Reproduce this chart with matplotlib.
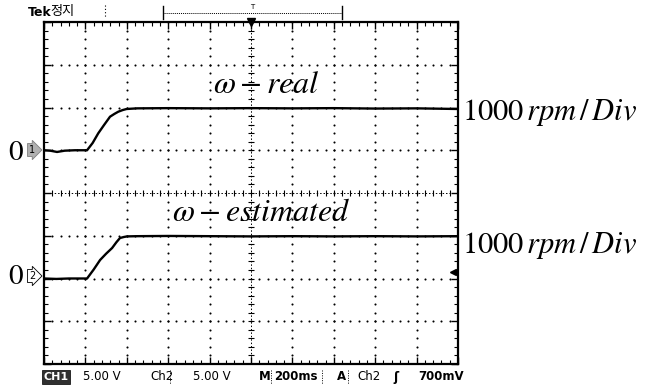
import matplotlib
matplotlib.use("Agg")
import matplotlib.pyplot as plt
import numpy as np
from matplotlib.lines import Line2D

plt.rcParams["mathtext.fontset"] = "stix"

# time base 200 ms/div, 1000 rpm/div
t_real = [0, 30, 63, 100, 150, 208, 235, 262, 290, 319, 340, 359, 380, 399, 450, 600, 800,
          1000, 1200, 1400, 1600, 1800, 2000]
w_real = [0, -10, -40, -10, 0, 0, 170, 396, 590, 785, 850, 902, 940, 965, 980, 985, 980,
          985, 980, 985, 975, 980, 965]
t_est = [0, 60, 120, 160, 208, 240, 271, 300, 329, 350, 367, 385, 401, 450, 600, 800,
         1000, 1200, 1400, 1600, 1800, 2000]
w_est = [0, -10, 0, 0, 0, 210, 433, 580, 713, 850, 947, 970, 985, 990, 995, 990,
         985, 990, 985, 990, 985, 990]

offset_real = 5   # divisions
offset_est = 2
rpm_per_div = 1000

fig = plt.figure(figsize=(6.49, 3.88), dpi=100)
ax = fig.add_axes([44 / 649, 1 - 364 / 388, 414 / 649, 342 / 388])
ax.set_xlim(0, 2000)
ax.set_ylim(0, 8)

# graticule dots
xdots = np.arange(0, 2001, 40)
ydots = np.arange(0, 8.01, 0.2)
for gy in [1, 2, 3, 5, 6, 7]:
    ax.plot(xdots, np.full(len(xdots), gy), ls="none", marker="o", ms=1.5, color="black", mew=0)
for gx in [200, 400, 600, 800, 1200, 1400, 1600, 1800]:
    ax.plot(np.full(len(ydots), gx), ydots, ls="none", marker="o", ms=1.5, color="black", mew=0)
# centre lines with ticks
ax.axhline(4, color="black", lw=0.7, ls=(0, (1.5, 2)))
ax.axvline(1000, color="black", lw=0.7, ls=(0, (1.5, 2)))
ax.plot(xdots, np.full(len(xdots), 4), ls="none", marker="|", ms=4, mew=0.8, color="black")
ax.plot(np.full(len(ydots), 1000), ydots, ls="none", marker="_", ms=4, mew=0.8, color="black")

# traces
ax.plot(t_real, offset_real + np.array(w_real) / rpm_per_div, color="black", lw=1.7)
ax.plot(t_est, offset_est + np.array(w_est) / rpm_per_div, color="black", lw=1.7)

ax.set_xticks(np.arange(0, 2001, 200))
ax.set_xticks(xdots, minor=True)
ax.set_yticks(np.arange(0, 9, 1))
ax.set_yticks(ydots, minor=True)
ax.tick_params(which="both", direction="in", top=True, right=True,
               labelbottom=False, labelleft=False, color="black")
ax.tick_params(which="major", length=5, width=1)
ax.tick_params(which="minor", length=3, width=0.8)
for s in ax.spines.values():
    s.set_linewidth(1.6)

# trigger markers
ax.plot([1000], [8], marker="v", ms=6, color="black", clip_on=False)
ax.plot([1975], [2.15], marker="<", ms=5, color="black", clip_on=False)

# labels
ax.text(1075, 6.35, r"$\omega - real$", fontsize=23, ha="center", va="baseline")
ax.text(1050, 3.35, r"$\omega - estimated$", fontsize=23, ha="center", va="baseline")
fig.text(462 / 649, 1 - 120 / 388, r"$1000\,rpm\,/\,Div$", fontsize=22, va="baseline")
fig.text(462 / 649, 1 - 253 / 388, r"$1000\,rpm\,/\,Div$", fontsize=22, va="baseline")
fig.text(16 / 649, 1 - 153 / 388, "0", fontsize=21, family="STIXGeneral", ha="center", va="center")
fig.text(16 / 649, 1 - 277 / 388, "0", fontsize=21, family="STIXGeneral", ha="center", va="center")

# channel reference markers
fig.text(32 / 649, 1 - 150 / 388, "1", fontsize=7, ha="center", va="center",
         bbox=dict(boxstyle="rarrow,pad=0.15", fc="#b0b0b0", ec="#808080", lw=0.6))
fig.text(32 / 649, 1 - 276 / 388, "2", fontsize=7, ha="center", va="center",
         bbox=dict(boxstyle="rarrow,pad=0.15", fc="white", ec="black", lw=0.6))

# top status line
fig.text(28 / 649, 1 - 12 / 388, "Tek", fontsize=9, weight="bold", va="center")
fig.text(50 / 649, 1 - 11 / 388, "정지", fontsize=9.5, family=["Noto Sans CJK KR", "DejaVu Sans"],
         va="center")
fig.add_artist(Line2D([105 / 649, 105 / 649], [1 - 5 / 388, 1 - 17 / 388], color="black",
                      lw=0.8, ls=(0, (1, 2))))
fig.add_artist(Line2D([163 / 649, 342 / 649], [1 - 13 / 388, 1 - 13 / 388], color="black",
                      lw=0.7, ls=(0, (1, 1))))
for bx in [163, 342]:
    fig.add_artist(Line2D([bx / 649, bx / 649], [1 - 6 / 388, 1 - 19 / 388], color="black", lw=1))
fig.text(252 / 649, 1 - 7 / 388, "T", fontsize=5, ha="center", va="center")

# bottom status line
yb = 1 - 377 / 388
fig.text(56 / 649, yb, "CH1", fontsize=8, weight="bold", color="white", ha="center", va="center",
         bbox=dict(boxstyle="square,pad=0.15", fc="#303030", ec="black", lw=0.5))
fig.text(83 / 649, yb, "5.00 V", fontsize=8.5, va="center")
fig.text(150 / 649, yb, "Ch2", fontsize=8.5, va="center")
fig.text(193 / 649, yb, "5.00 V", fontsize=8.5, va="center")
fig.text(259 / 649, yb, "M", fontsize=8.5, weight="bold", va="center")
fig.text(274 / 649, yb, "200ms", fontsize=8.5, weight="bold", va="center")
fig.text(337 / 649, yb, "A", fontsize=8.5, weight="bold", va="center")
fig.text(357 / 649, yb, "Ch2", fontsize=8.5, va="center")
fig.text(393 / 649, yb, "\u0283", fontsize=9, weight="bold", va="center")
fig.text(418 / 649, yb, "700mV", fontsize=8.5, weight="bold", va="center")
for sx in [170, 271, 322, 348]:
    fig.add_artist(Line2D([sx / 649, sx / 649], [1 - 370 / 388, 1 - 384 / 388], color="black",
                          lw=0.7, ls=(0, (1, 1.5))))

fig.savefig("out.png", dpi=100)
